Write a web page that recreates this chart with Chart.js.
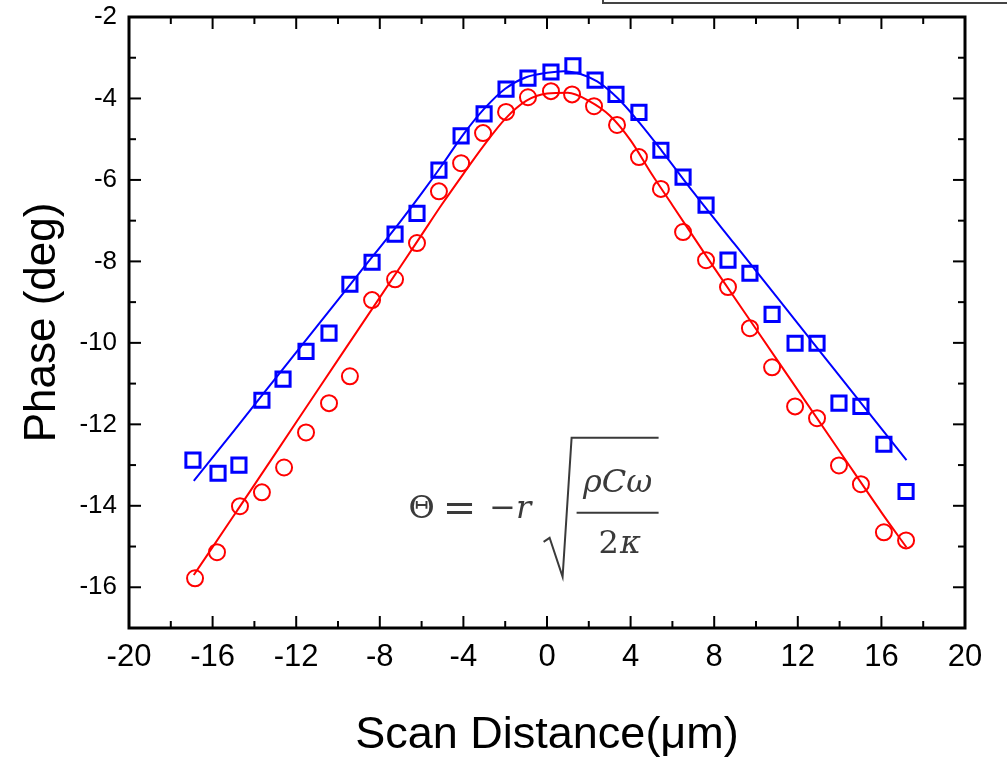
<!DOCTYPE html>
<html>
<head>
<meta charset="utf-8">
<script src="https://cdn.jsdelivr.net/npm/chart.js@4.4.1/dist/chart.umd.min.js"></script>
<style>
  html,body{margin:0;padding:0;background:#fff;}
  #wrap{width:1007px;height:762px;}
</style>
</head>
<body>
<div id="wrap"><canvas id="c" width="1007" height="762"></canvas></div>
<script>
// measured points (scan distance in um, phase in deg)
const blueX = [-16.94,-15.74,-14.74,-13.64,-12.63,-11.53,-10.43,-9.43,-8.37,-7.27,-6.22,-5.17,-4.11,-3.01,-1.96,-0.91,0.19,1.24,2.30,3.30,4.40,5.45,6.51,7.61,8.66,9.71,10.77,11.87,12.92,13.97,15.02,16.12,17.18];
const blueY = [-12.88,-13.20,-13.00,-11.41,-10.89,-10.21,-9.76,-8.56,-8.02,-7.33,-6.82,-5.76,-4.92,-4.38,-3.77,-3.50,-3.35,-3.20,-3.55,-3.90,-4.34,-5.27,-5.93,-6.62,-7.97,-8.29,-9.30,-10.01,-10.01,-11.48,-11.56,-12.49,-13.65];
const redX = [-16.84,-15.79,-14.69,-13.64,-12.58,-11.53,-10.43,-9.43,-8.37,-7.27,-6.22,-5.17,-4.11,-3.06,-1.96,-0.91,0.19,1.20,2.25,3.35,4.40,5.45,6.51,7.61,8.66,9.71,10.77,11.87,12.92,13.97,15.02,16.12,17.18];
const redY = [-15.78,-15.14,-14.01,-13.67,-13.06,-12.20,-11.48,-10.82,-8.95,-8.44,-7.55,-6.28,-5.59,-4.85,-4.33,-3.97,-3.82,-3.90,-4.19,-4.65,-5.44,-6.22,-7.28,-7.97,-8.63,-9.64,-10.60,-11.56,-11.85,-13.01,-13.47,-14.65,-14.85];

// fitted curves
const blueFitX = [-16.9,-15,-13,-11,-9,-7,-6,-5,-4,-3,-2,-1,0,0.8,1.6,2.4,3.4,4.4,5.5,7,9,11,13,15,17.2];
const blueFitY = [-13.39,-12.17,-10.88,-9.59,-8.30,-7.01,-6.33,-5.62,-4.88,-4.25,-3.76,-3.48,-3.37,-3.33,-3.40,-3.58,-4.00,-4.58,-5.29,-6.30,-7.59,-8.88,-10.17,-11.46,-12.88];
const redFitX = [-16.9,-15,-13,-11,-9,-7,-6,-5,-4,-3,-2,-1,0,1,2,3,4,5,6,8,10,12,14,16,17.2];
const redFitY = [-15.70,-14.25,-12.72,-11.18,-9.65,-8.12,-7.35,-6.58,-5.85,-5.14,-4.50,-4.06,-3.88,-3.86,-4.06,-4.42,-5.03,-5.85,-6.62,-8.16,-9.66,-11.16,-12.66,-14.16,-15.02];

const xTicksStep = 4, yTicksStep = 2;
const xTitle = 'Scan Distance(\u03bcm)';
const yTitle = 'Phase (deg)';

const pts = (xs, ys) => xs.map((x, i) => ({x, y: ys[i]}));
const FONT = '"Liberation Sans", Arial, sans-serif';

// inward ticks on all four sides + frame + equation
const framePlugin = {
  id: 'frame',
  afterDatasetsDraw(chart){
    const {ctx, chartArea:a, scales:{x, y}} = chart;
    ctx.save();
    ctx.strokeStyle = '#000';
    ctx.lineWidth = 2;
    const xt = x.ticks.map(t => t.value);
    const yt = y.ticks.map(t => t.value);
    const tick = (px, py, dx, dy) => { ctx.beginPath(); ctx.moveTo(px, py); ctx.lineTo(px+dx, py+dy); ctx.stroke(); };
    xt.forEach((v, i) => {
      const p = x.getPixelForValue(v);
      tick(p, a.bottom, 0, -12); tick(p, a.top, 0, 12);
      if (i < xt.length-1) {
        const m = x.getPixelForValue(v + xTicksStep/2);
        tick(m, a.bottom, 0, -7); tick(m, a.top, 0, 7);
      }
    });
    yt.forEach(v => {
      const p = y.getPixelForValue(v);
      tick(a.left, p, 12, 0); tick(a.right, p, -12, 0);
      const m = y.getPixelForValue(v - yTicksStep/2);
      if (v - yTicksStep/2 > y.min) { tick(a.left, m, 7, 0); tick(a.right, m, -7, 0); }
    });
    ctx.lineWidth = 3;
    ctx.strokeRect(a.left, a.top, a.right - a.left, a.bottom - a.top);

    // equation annotation, anchored at data point (-6, -14)
    const ox = x.getPixelForValue(-6), oy = y.getPixelForValue(-14);
    ctx.fillStyle = '#3a3a3a';
    ctx.strokeStyle = '#3a3a3a';
    ctx.textBaseline = 'alphabetic';
    ctx.textAlign = 'center';
    ctx.font = '32px "DejaVu Serif", serif';
    ctx.fillText('\u0398', ox, oy + 12);
    ctx.font = '40px "DejaVu Serif", serif';
    ctx.fillText('=', ox + 38, oy + 15);
    ctx.font = '32px "DejaVu Serif", serif';
    ctx.fillText('\u2212', ox + 81, oy + 12);
    ctx.font = 'italic 32px "DejaVu Serif", serif';
    ctx.fillText('r', ox + 102, oy + 12);
    ctx.fillText('\u03c1C\u03c9', ox + 196, oy - 14);
    ctx.font = '32px "DejaVu Serif", serif';
    ctx.fillText('2', ox + 187, oy + 47);
    ctx.font = 'italic 32px "DejaVu Serif", serif';
    ctx.fillText('\u03ba', ox + 209, oy + 47);
    ctx.lineWidth = 2;
    ctx.beginPath();
    ctx.moveTo(ox + 155, oy + 7); ctx.lineTo(ox + 237, oy + 7);
    ctx.stroke();
    ctx.beginPath();
    ctx.moveTo(ox + 122, oy + 36); ctx.lineTo(ox + 128, oy + 32);
    ctx.lineTo(ox + 141, oy + 71); ctx.lineTo(ox + 150, oy - 68);
    ctx.lineTo(ox + 237, oy - 68);
    ctx.stroke();
    ctx.restore();

    // fragment of a box at the top right edge
    ctx.save();
    ctx.strokeStyle = '#444';
    ctx.lineWidth = 2;
    ctx.beginPath();
    ctx.moveTo(603, 0); ctx.lineTo(603, 3); ctx.lineTo(1007, 3);
    ctx.stroke();
    ctx.restore();
  }
};

new Chart(document.getElementById('c'), {
  type: 'scatter',
  data: {
    datasets: [
      {data: pts(blueFitX, blueFitY), showLine: true, borderColor: '#0000ff', borderWidth: 2, pointRadius: 0, cubicInterpolationMode: 'monotone', fill: false},
      {data: pts(redFitX, redFitY), showLine: true, borderColor: '#ff0000', borderWidth: 2, pointRadius: 0, cubicInterpolationMode: 'monotone', fill: false},
      {data: pts(blueX, blueY), pointStyle: 'rect', pointRadius: 10, borderColor: '#0000ff', borderWidth: 3, backgroundColor: 'rgba(0,0,0,0)'},
      {data: pts(redX, redY), pointStyle: 'circle', pointRadius: 8, borderColor: '#ff0000', borderWidth: 2, backgroundColor: 'rgba(0,0,0,0)'}
    ]
  },
  options: {
    responsive: false,
    animation: false,
    layout: {padding: {left: 0, top: 17, right: 42, bottom: 0}},
    plugins: {legend: {display: false}, tooltip: {enabled: false}},
    scales: {
      x: {
        type: 'linear', min: -20, max: 20,
        ticks: {stepSize: xTicksStep, color: '#000', padding: 11, maxRotation: 0, font: {family: FONT, size: 31}},
        grid: {display: false, drawTicks: false},
        border: {display: false},
        title: {display: true, text: xTitle, color: '#000', font: {family: FONT, size: 45, lineHeight: 1}, padding: {top: 0, bottom: 4}},
        afterFit: s => { s.height = 134; s.paddingLeft = 0; s.paddingRight = 0; }
      },
      y: {
        type: 'linear', min: -17, max: -2,
        ticks: {stepSize: yTicksStep, color: '#000', padding: 12, font: {family: FONT, size: 26}},
        afterBuildTicks: s => { s.ticks = s.ticks.filter(t => t.value % 2 === 0); },
        grid: {display: false, drawTicks: false},
        border: {display: false},
        title: {display: true, text: yTitle, color: '#000', font: {family: FONT, size: 44, lineHeight: 1}, padding: {top: 21, bottom: 0}},
        afterFit: s => { s.width = 129; s.paddingTop = 0; s.paddingBottom = 0; }
      }
    }
  },
  plugins: [framePlugin]
});
</script>
</body>
</html>
